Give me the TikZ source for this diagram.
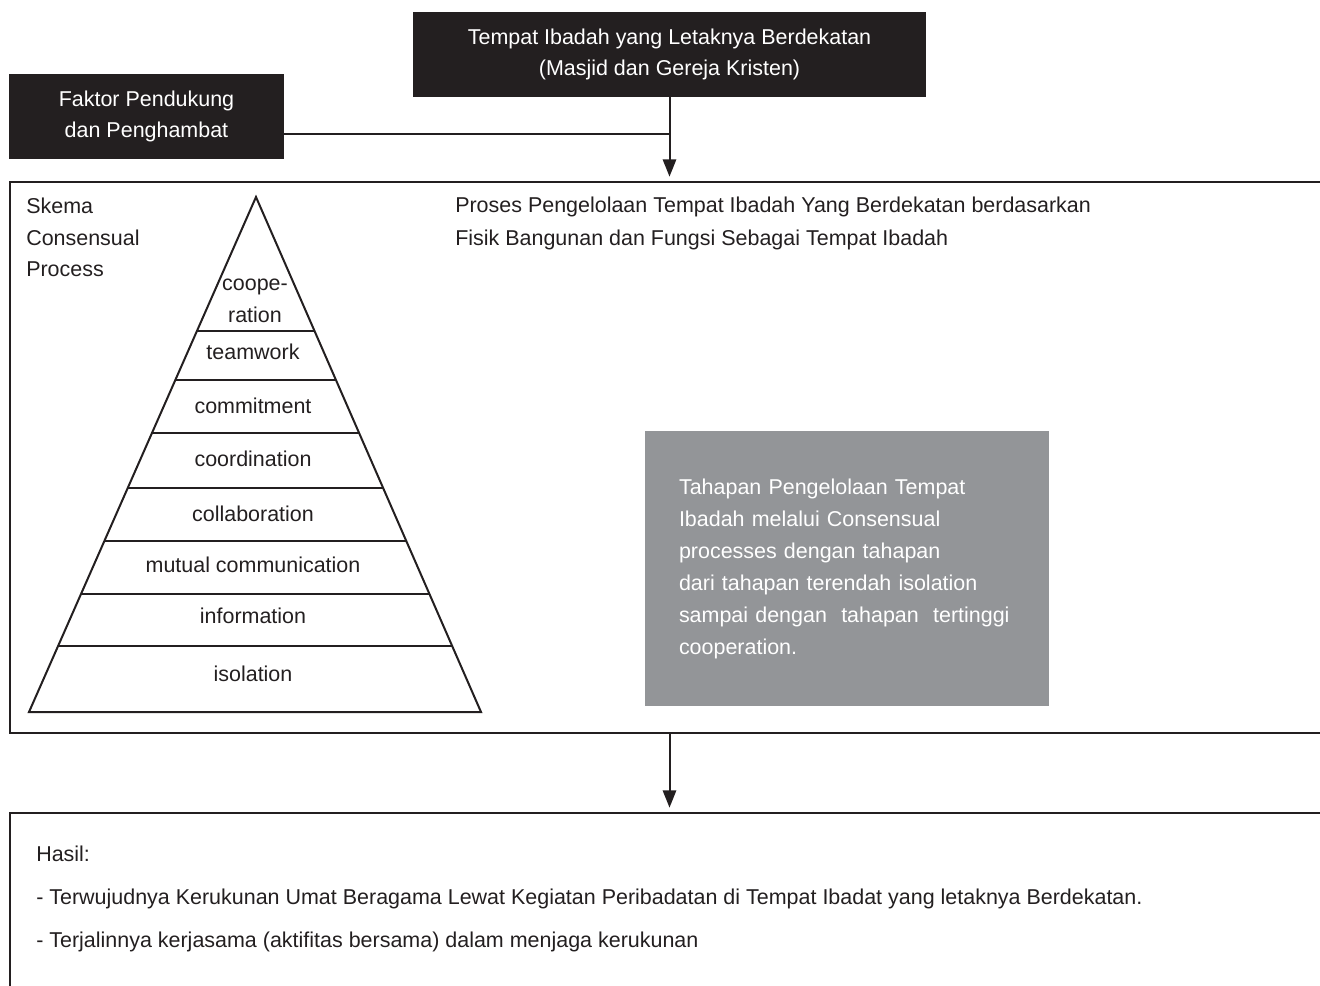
\documentclass[tikz,border=0pt]{standalone}
\usepackage{fontspec}
\setmainfont{Liberation Sans}
\usetikzlibrary{arrows.meta,positioning,calc}
\definecolor{ink}{HTML}{231F20}
\definecolor{slab}{HTML}{939598}

\begin{document}
\begin{tikzpicture}[x=0.75pt,y=-0.75pt,
  txt/.style={font=\fontsize{16.1}{23.6}\selectfont, text=ink},
  dark/.style={txt, fill=ink, text=white, align=center, inner sep=0pt,
               minimum height=63.75pt},
  panel/.style={draw=ink, line width=2pt, minimum width=993.75pt},
  tier/.style={txt, inner sep=0pt},
  note/.style={txt, align=left, anchor=north west, inner sep=0pt},
  pyr/.style={draw=ink, line width=1.5pt, line join=miter},
  arr/.style={-{Triangle[length=13pt,width=10pt]}, line width=1.5pt, ink, shorten >=3pt},
  wire/.style={line width=1.5pt, ink}]
\useasboundingbox (0,0) rectangle (1320,985);
\clip (0,0) rectangle (1320,985);
% ---- header boxes ----
\node[dark, minimum width=384.75pt] (ibadah) at (669.5,54.5)
  {Tempat Ibadah yang Letaknya Berdekatan\\(Masjid dan Gereja Kristen)};
\node[dark, minimum width=206.25pt] (faktor) at (146.5,116.5)
  {Faktor Pendukung\\dan Penghambat};
% ---- frames ----
\node[panel, minimum height=413.25pt] (proses) at (672.5,457.5) {};
\node[panel, minimum height=140.25pt] (hasil) at (672.5,906.5) {};
% ---- connectors ----
\coordinate (join) at (669.5,134);
\draw[wire] (faktor.east |- join) -- (join);
\draw[arr] (ibadah.south) -- (proses.north -| ibadah.south);
\draw[arr] (proses.south -| ibadah.south) -- (hasil.north -| ibadah.south);
% ---- texts in the process frame ----
\node[note] (skema) at (26,198) {Skema\\Consensual\\Process};
\node[note, font=\fontsize{16.1}{24.4}\selectfont] (judul) at (455,197)
  {Proses Pengelolaan Tempat Ibadah Yang Berdekatan berdasarkan\\
   Fisik Bangunan dan Fungsi Sebagai Tempat Ibadah};
% ---- pyramid ----
\coordinate (apex) at (256,197);
\coordinate (bl) at (29,712);
\coordinate (br) at (481,712);
\draw[pyr] (apex) -- (bl) -- (br) -- cycle;
\foreach \yy in {331,380,433,488,541,594,646}
  \draw[pyr] ($(apex)!{(\yy-197)/515}!(bl)$) -- ($(apex)!{(\yy-197)/515}!(br)$);
\node[tier, align=center] (tier0) at (255,301) {coope-\\ration};
\foreach \yy/\lbl [count=\i] in {352/teamwork, 406/commitment,
    459/coordination, 514/collaboration, 565/mutual communication,
    616/information, 674/isolation}
  \node[tier] (tier\i) at (253,\yy) {\lbl};
% ---- grey note ----
\node[txt, fill=slab, text=white, align=left, text width=252pt,
      minimum width=303pt, minimum height=206.25pt, inner sep=0pt,
      font=\fontsize{16.1}{24}\selectfont] (ket) at (847,568.5)
  {Tahapan Pengelolaan Tempat\\Ibadah melalui Consensual\\
   processes dengan tahapan\\dari tahapan terendah isolation\\
   sampai dengan\ \ tahapan\ \ tertinggi\\cooperation.};
% ---- result ----
\node[note, font=\fontsize{16.1}{32.25}\selectfont] (hasiltext) at (36,846)
  {Hasil:\\
   - Terwujudnya Kerukunan Umat Beragama Lewat Kegiatan Peribadatan di Tempat Ibadat yang letaknya Berdekatan.\\
   - Terjalinnya kerjasama (aktifitas bersama) dalam menjaga kerukunan};
\end{tikzpicture}
\end{document}
